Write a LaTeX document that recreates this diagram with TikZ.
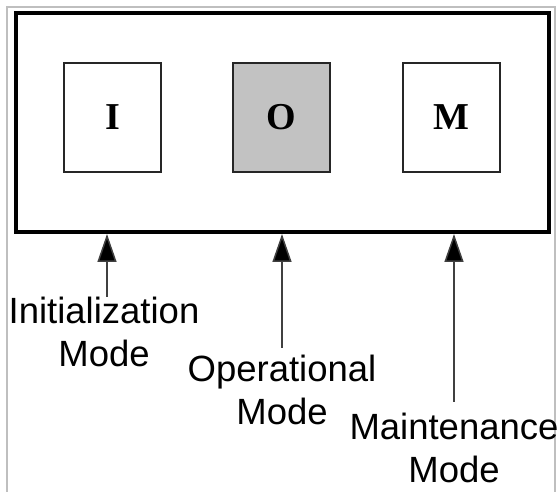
\documentclass[tikz,border=0pt]{standalone}
\usepackage{fontspec}
\setmainfont{Liberation Serif}
\setsansfont{Liberation Sans}
\usetikzlibrary{arrows.meta,positioning}
\begin{document}
\begin{tikzpicture}[x=1pt,y=-1pt]
\tikzset{modebox/.style={draw=black!85, line width=1.8pt, minimum width=97pt, minimum height=109pt, inner sep=0pt, font=\fontsize{38}{38}\selectfont\bfseries},
modelabel/.style={align=center, inner sep=0pt, font=\sffamily\fontsize{36.5}{43}\selectfont},
modearrow/.style={draw=black!75, line width=1.5pt, -{Triangle[width=19pt,length=28pt,fill=black]}}}
\useasboundingbox (0,0) rectangle (558,492);
\draw[black!25, line width=2pt] (7,492) -- (7,7) -- (555,7) -- (555,492);
\node[draw, line width=4pt, minimum width=533pt, minimum height=219pt, inner sep=0pt] (system) at (282.5,122.5) {};
\node[modebox] (ibox) at (112.5,117.5) {I};
\node[modebox, fill=black!24] (obox) at (281.5,117.5) {O};
\node[modebox] (mbox) at (451.5,117.5) {M};
\coordinate (itail) at (107,297);
\coordinate (otail) at (282,348);
\coordinate (mtail) at (454,402);
\node[modelabel, below=0pt of itail, xshift=-3pt] (ilabel) {Initialization\\Mode};
\node[modelabel, below=7pt of otail] (olabel) {Operational\\Mode};
\node[modelabel, below=11pt of mtail] (mlabel) {Maintenance\\Mode};
\draw[modearrow] (itail) -- (itail |- system.south);
\draw[modearrow] (otail) -- (otail |- system.south);
\draw[modearrow] (mtail) -- (mtail |- system.south);
\end{tikzpicture}
\end{document}
